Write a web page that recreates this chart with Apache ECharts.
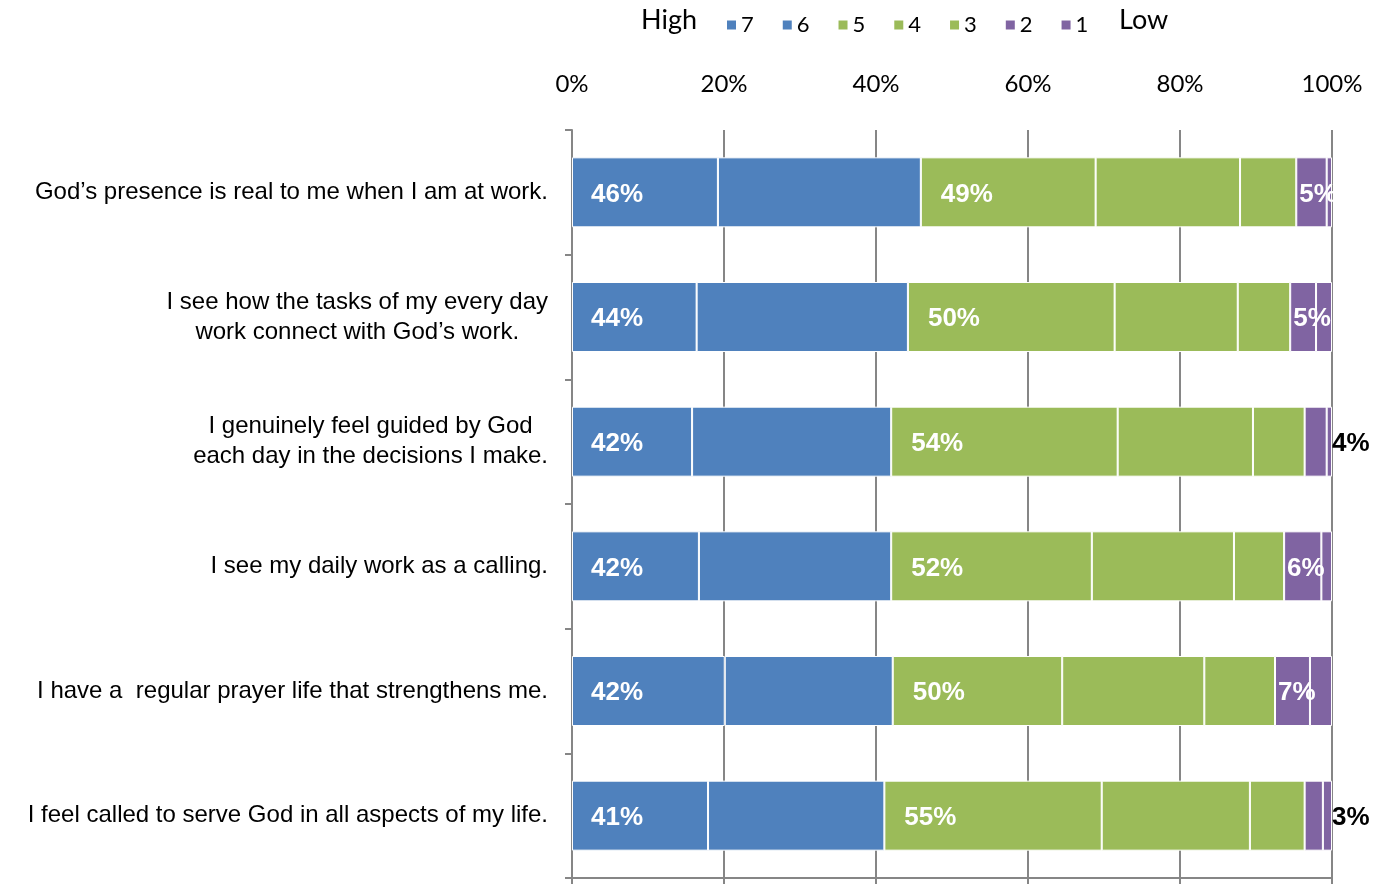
<!DOCTYPE html>
<html>
<head>
<meta charset="utf-8">
<script src="https://cdn.jsdelivr.net/npm/echarts@6/dist/echarts.min.js"></script>
<style>
  html, body { margin: 0; padding: 0; background: #fff; }
  #chart { width: 1388px; height: 884px; }
</style>
</head>
<body>
<div id="chart"></div>
<script>
// statements, top to bottom
var categories = [
  'God\u2019s presence is real to me when I am at work.',
  'I see how the tasks of my every day\nwork connect with God\u2019s work.',
  'I genuinely feel guided by God\neach day in the decisions I make.',
  'I see my daily work as a calling.',
  'I have a  regular prayer life that strengthens me.',
  'I feel called to serve God in all aspects of my life.'
]
var levels = ['7', '6', '5', '4', '3', '2', '1']
// share of answers per level (%)
var s7 = [19.2, 16.4, 15.8, 16.7, 20.1, 17.9]
var s6 = [26.7, 27.8, 26.2, 25.3, 22.1, 23.2]
var s5 = [23.0, 27.2, 29.8, 26.4, 22.3, 28.6]
var s4 = [19.0, 16.2, 17.8, 18.7, 18.7, 19.5]
var s3 = [7.4, 6.9, 6.8, 6.6, 9.3, 7.2]
var s2 = [4.0, 3.4, 2.9, 4.9, 4.6, 2.4]
var s1 = [0.7, 2.1, 0.7, 1.4, 2.9, 1.2]
// printed group totals
var highLabels = [46, 44, 42, 42, 42, 41]
var midLabels = [49, 50, 54, 52, 50, 55]
var lowLabels = [5, 5, 4, 6, 7, 3]
var xTicks = [0, 20, 40, 60, 80, 100]

var colors = ['#4F81BD', '#4F81BD', '#9BBB59', '#9BBB59', '#9BBB59', '#8064A2', '#8064A2']
var axisGray = '#868686'
var labelFont = '"Liberation Sans", Arial, sans-serif'
var tickFont = 'Lato, sans-serif'

var inLabel = function (txt, dist) {
  return {
    show: true,
    position: 'insideLeft',
    distance: dist,
    offset: [0, 2],
    formatter: txt + '%',
    color: '#fff',
    fontFamily: '"Liberation Sans", Arial, sans-serif',
    fontWeight: 'bold',
    fontSize: 26
  }
}

var makeData = function (arr, idx) {
  return arr.map(function (v, i) {
    var item = { value: v }
    if (idx === 0) item.label = inLabel(highLabels[i], 19)
    if (idx === 2) item.label = inLabel(midLabels[i], 20)
    if (idx === 5 && lowLabels[i] >= 5) item.label = inLabel(lowLabels[i], 3)
    if (idx === 6 && lowLabels[i] < 5) {
      item.label = inLabel(lowLabels[i], 0)
      item.label.position = 'right'
      item.label.color = '#000'
    }
    return item
  })
}

var allSeries = [s7, s6, s5, s4, s3, s2, s1]

var myChart = echarts.init(document.getElementById('chart'))
var option = {
  animation: false,
  color: colors,
  grid: { left: 572, right: 56, top: 130, bottom: 6 },
  legend: {
    data: levels,
    left: 722,
    top: 9,
    icon: 'rect',
    itemWidth: 9,
    itemHeight: 9,
    itemGap: 29,
    itemStyle: { borderWidth: 0 },
    textStyle: { fontFamily: tickFont, fontSize: 22, color: '#000' }
  },
  graphic: [
    { type: 'text', left: 641, top: 7, style: { text: 'High', fontFamily: tickFont, fontSize: 27, fill: '#000' } },
    { type: 'text', left: 1119, top: 7, style: { text: 'Low', fontFamily: tickFont, fontSize: 27, fill: '#000' } }
  ],
  xAxis: [
    {
      type: 'value',
      position: 'top',
      min: 0,
      max: 100,
      interval: 20,
      axisLine: { show: false },
      axisTick: { show: false },
      axisLabel: {
        margin: 34,
        fontFamily: tickFont,
        fontSize: 24,
        color: '#000',
        formatter: function (v) { return xTicks.indexOf(v) >= 0 ? v + '%' : '' }
      },
      splitLine: { show: true, lineStyle: { color: axisGray, width: 2 } }
    },
    {
      type: 'value',
      position: 'bottom',
      min: 0,
      max: 100,
      interval: 20,
      axisLine: { show: true, lineStyle: { color: axisGray, width: 2 } },
      axisTick: { show: true, inside: false, length: 6, lineStyle: { color: axisGray, width: 2 } },
      axisLabel: { show: false },
      splitLine: { show: false }
    }
  ],
  yAxis: {
    type: 'category',
    inverse: true,
    data: categories,
    axisLine: { show: true, lineStyle: { color: axisGray, width: 2 } },
    axisTick: { show: true, length: 7, lineStyle: { color: axisGray, width: 2 } },
    axisLabel: {
      margin: 24,
      fontFamily: labelFont,
      fontSize: 24,
      lineHeight: 30,
      color: '#000',
      formatter: function (v) {
        if (v.indexOf('\n') < 0) return v
        return v.split('\n').map(function (s) { return '{c|' + s + '}' }).join('\n')
      },
      rich: {
        c: { align: 'center', fontFamily: labelFont, fontSize: 24, lineHeight: 30, color: '#000' }
      }
    }
  },
  series: allSeries.map(function (arr, k) {
    return {
      name: levels[k],
      type: 'bar',
      stack: 'total',
      barWidth: 70,
      xAxisIndex: 0,
      itemStyle: { borderColor: '#fff', borderWidth: 1 },
      data: makeData(arr, k)
    }
  })
}
myChart.setOption(option)
</script>
</body>
</html>
